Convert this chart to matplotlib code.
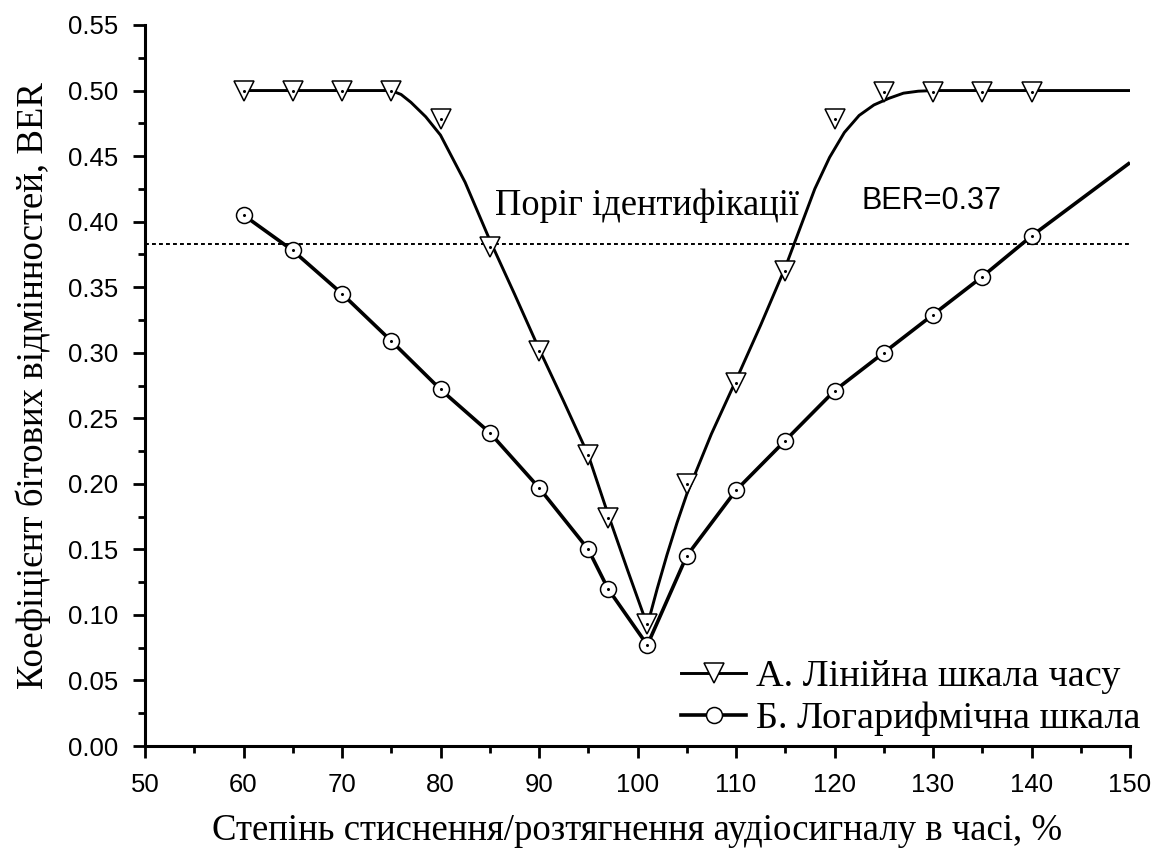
import matplotlib
matplotlib.use("Agg")
import matplotlib.pyplot as plt
from matplotlib.ticker import MultipleLocator, FormatStrFormatter
from matplotlib.lines import Line2D

# ---- data ----
x_pts = [60, 65, 70, 75, 80, 85, 90, 95, 97, 101, 105, 110, 115, 120, 125, 130, 135, 140]
ber_linear = [0.500, 0.500, 0.500, 0.500, 0.478, 0.381, 0.301, 0.222, 0.174, 0.093,
              0.200, 0.277, 0.362, 0.478, 0.499, 0.499, 0.499, 0.499]
ber_log = [0.405, 0.378, 0.345, 0.309, 0.272, 0.239, 0.197, 0.150, 0.120, 0.077,
           0.145, 0.195, 0.233, 0.271, 0.300, 0.329, 0.358, 0.389]

# fitted curves
fit_lin_x = [60, 75, 76, 77, 78.5, 80, 82.5, 85, 87.5, 90, 92.5, 95, 97, 99, 101,
             102, 103, 104, 105, 107.5, 110, 112.5, 115, 116.5, 118, 119.5, 121,
             122.5, 124, 125.5, 127, 128.5, 130, 150]
fit_lin_y = [0.500, 0.500, 0.497, 0.491, 0.480, 0.466, 0.430, 0.386, 0.345, 0.303,
             0.263, 0.222, 0.177, 0.134, 0.092,
             0.120, 0.146, 0.170, 0.192, 0.238, 0.279, 0.321, 0.365, 0.395, 0.425,
             0.449, 0.468, 0.481, 0.489, 0.494, 0.498, 0.4995, 0.500, 0.500]
fit_log_x = x_pts + [150]
fit_log_y = ber_log + [0.445]

threshold = 0.383
xlim = (50, 150)
ylim = (0.0, 0.55)

label_a = "А. Лінійна шкала часу"
label_b = "Б. Логарифмічна шкала"
xlabel = "Степінь стиснення/розтягнення аудіосигналу в часі, %"
ylabel = "Коефіцієнт бітових відмінностей, BER"
note_thr = "Поріг ідентифікації"
note_ber = "BER=0.37"

SERIF = ["Liberation Serif", "DejaVu Serif"]
SANS = ["Liberation Sans", "DejaVu Sans"]

fig = plt.figure(figsize=(11.57, 8.52), dpi=100)
ax = fig.add_axes([145 / 1157, 1 - 746 / 852, (1130 - 145) / 1157, (746 - 25) / 852])

ax.axhline(threshold, color="black", lw=1.4, linestyle=(0, (2, 1.6)), zorder=1)

ax.plot(fit_lin_x, fit_lin_y, color="black", lw=2.1, zorder=2, solid_capstyle="butt")
ax.plot(fit_log_x, fit_log_y, color="black", lw=2.6, zorder=2, solid_capstyle="butt")

ax.plot(x_pts, ber_linear, linestyle="none", marker="v", markersize=14,
        markerfacecolor="white", markeredgecolor="black", markeredgewidth=1.1, zorder=3)
ax.plot(x_pts, ber_log, linestyle="none", marker="o", markersize=11.5,
        markerfacecolor="white", markeredgecolor="black", markeredgewidth=1.1, zorder=3)
ax.plot(x_pts, ber_linear, linestyle="none", marker="o", markersize=1.2,
        color="black", zorder=4)
ax.plot(x_pts, ber_log, linestyle="none", marker="o", markersize=1.2,
        color="black", zorder=4)

ax.set_xlim(*xlim)
ax.set_ylim(*ylim)
ax.xaxis.set_major_locator(MultipleLocator(10))
ax.xaxis.set_minor_locator(MultipleLocator(5))
ax.yaxis.set_major_locator(MultipleLocator(0.05))
ax.yaxis.set_minor_locator(MultipleLocator(0.025))
ax.yaxis.set_major_formatter(FormatStrFormatter("%.2f"))

for s in ["top", "right"]:
    ax.spines[s].set_visible(False)
for s in ["left", "bottom"]:
    ax.spines[s].set_linewidth(2.2)

ax.tick_params(which="major", direction="out", length=8.5, width=2.0, pad=11,
               labelsize=18.5)
ax.tick_params(which="minor", direction="out", length=5, width=2.0)
for lab in ax.get_xticklabels() + ax.get_yticklabels():
    lab.set_family(SANS)

ax.set_xlabel(xlabel, family=SERIF, fontsize=26.5, labelpad=12)
ax.set_ylabel(ylabel, family=SERIF, fontsize=26.5, labelpad=12)

ax.text(101.0, 0.405, note_thr, family=SERIF, fontsize=26.3, ha="center", va="baseline")
ax.text(122.7, 0.41, note_ber, family=SANS, fontsize=22, ha="left", va="baseline")

h_a = Line2D([], [], color="black", lw=2.1, marker="v", markersize=14,
             markerfacecolor="white", markeredgecolor="black", markeredgewidth=1.1)
h_b = Line2D([], [], color="black", lw=2.6, marker="o", markersize=11.5,
             markerfacecolor="white", markeredgecolor="black", markeredgewidth=1.1)
leg = ax.legend([h_a, h_b], [label_a, label_b], loc="lower right",
                bbox_to_anchor=(1.02, 0.0), frameon=False,
                prop={"family": SERIF, "size": 27.5}, handlelength=1.7,
                handletextpad=0.25, labelspacing=0.2, borderpad=0.15,
                borderaxespad=0.1)

fig.savefig("out.png", dpi=100)
